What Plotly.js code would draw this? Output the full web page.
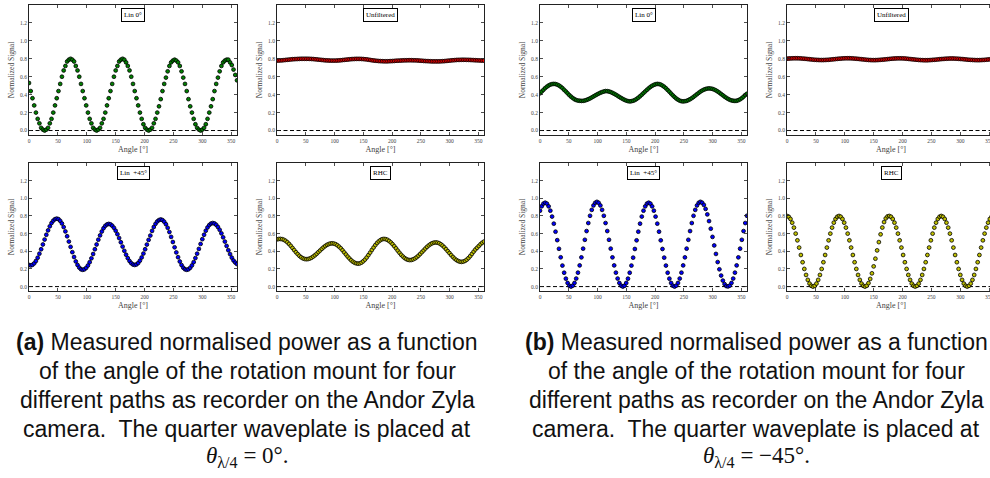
<!DOCTYPE html>
<html>
<head>
<meta charset="utf-8">
<script src="https://cdn.plot.ly/plotly-3.0.1.min.js"></script>
<style>
html,body{margin:0;padding:0;background:#fff;overflow:hidden;width:990px;height:478px;}
#chart{width:1000px;height:478px;}
</style>
</head>
<body>
<div id="chart"></div>
<script>
// ---------------- DATA ----------------
const angle = [0,3,6,9,12,15,18,21,24,27,30,33,36,39,42,45,48,51,54,57,60,63,66,69,72,75,78,81,84,87,
90,93,96,99,102,105,108,111,114,117,120,123,126,129,132,135,138,141,144,147,150,153,156,159,162,165,168,171,174,177,
180,183,186,189,192,195,198,201,204,207,210,213,216,219,222,225,228,231,234,237,240,243,246,249,252,255,258,261,264,267,
270,273,276,279,282,285,288,291,294,297,300,303,306,309,312,315,318,321,324,327,330,333,336,339,342,345,348,351,354,357,360];

const xTicks = [0,50,100,150,200,250,300,350];
const yTicks = [0.0,0.2,0.4,0.6,0.8,1.0,1.2];
const zeroX = [0,360];
const zeroY = [0,0];

const panelLabels = ["Lin 0°","Unfiltered","Lin  +45°","RHC","Lin 0°","Unfiltered","Lin  +45°","RHC"];

// (a) quarter waveplate at 0°
const aLin0 = [0.53,0.44,0.36,0.28,0.20,0.13,0.08,0.03,0.01,0.00,
0.01,0.03,0.08,0.13,0.20,0.28,0.36,0.44,0.52,0.60,
0.67,0.72,0.77,0.79,0.80,0.79,0.77,0.72,0.67,0.60,
0.52,0.44,0.36,0.28,0.20,0.13,0.08,0.03,0.01,0.00,
0.01,0.03,0.08,0.13,0.20,0.28,0.36,0.44,0.52,0.60,
0.67,0.72,0.77,0.79,0.80,0.79,0.76,0.72,0.67,0.60,
0.52,0.44,0.36,0.28,0.20,0.13,0.07,0.03,0.01,0.00,
0.01,0.03,0.08,0.13,0.20,0.27,0.35,0.44,0.52,0.59,
0.66,0.72,0.76,0.78,0.79,0.78,0.76,0.72,0.66,0.59,
0.52,0.44,0.35,0.27,0.20,0.13,0.07,0.03,0.01,0.00,
0.01,0.03,0.07,0.13,0.20,0.27,0.35,0.44,0.52,0.59,
0.66,0.72,0.76,0.78,0.79,0.79,0.76,0.73,0.68,0.62,
0.56];

const aUnfiltered = [0.780,0.781,0.782,0.783,0.785,0.787,0.789,0.791,0.793,0.795,
0.796,0.797,0.798,0.799,0.800,0.800,0.800,0.800,0.800,0.799,
0.798,0.797,0.795,0.793,0.791,0.789,0.787,0.785,0.783,0.782,
0.781,0.780,0.780,0.780,0.780,0.781,0.782,0.784,0.786,0.788,
0.790,0.792,0.794,0.796,0.797,0.798,0.799,0.799,0.799,0.798,
0.797,0.795,0.793,0.790,0.787,0.784,0.781,0.779,0.777,0.775,
0.774,0.773,0.772,0.772,0.772,0.773,0.774,0.775,0.776,0.778,
0.779,0.780,0.781,0.782,0.783,0.783,0.784,0.784,0.784,0.783,
0.783,0.782,0.781,0.779,0.778,0.776,0.775,0.774,0.773,0.772,
0.771,0.771,0.771,0.771,0.771,0.772,0.773,0.774,0.776,0.778,
0.780,0.782,0.784,0.785,0.787,0.788,0.788,0.789,0.789,0.789,
0.788,0.788,0.787,0.786,0.785,0.784,0.783,0.782,0.781,0.780,
0.780];

const aLin45 = [0.245,0.240,0.246,0.263,0.290,0.327,0.373,0.423,0.477,0.533,
0.587,0.637,0.683,0.720,0.747,0.764,0.770,0.764,0.745,0.715,
0.674,0.625,0.570,0.510,0.450,0.390,0.335,0.285,0.245,0.215,
0.196,0.190,0.196,0.212,0.239,0.276,0.320,0.369,0.423,0.477,
0.531,0.580,0.624,0.661,0.688,0.704,0.710,0.705,0.690,0.666,
0.633,0.594,0.550,0.502,0.453,0.405,0.361,0.322,0.289,0.265,
0.250,0.245,0.251,0.267,0.294,0.330,0.374,0.423,0.476,0.529,
0.578,0.631,0.675,0.711,0.738,0.754,0.760,0.754,0.735,0.706,
0.666,0.618,0.563,0.505,0.445,0.387,0.333,0.284,0.244,0.214,
0.196,0.190,0.196,0.213,0.240,0.277,0.323,0.373,0.427,0.483,
0.537,0.587,0.633,0.670,0.697,0.714,0.720,0.715,0.700,0.675,
0.643,0.603,0.558,0.510,0.461,0.412,0.368,0.328,0.295,0.272,
0.255];

const aRHC = [0.535,0.539,0.540,0.537,0.530,0.518,0.502,0.483,0.461,0.437,
0.413,0.389,0.368,0.348,0.332,0.320,0.313,0.310,0.312,0.318,
0.327,0.340,0.355,0.372,0.391,0.409,0.428,0.445,0.460,0.473,
0.482,0.488,0.490,0.487,0.480,0.468,0.452,0.433,0.411,0.387,
0.363,0.339,0.318,0.298,0.282,0.270,0.263,0.260,0.263,0.272,
0.287,0.306,0.330,0.357,0.385,0.415,0.443,0.470,0.494,0.513,
0.527,0.537,0.540,0.537,0.530,0.517,0.500,0.480,0.457,0.433,
0.407,0.383,0.360,0.340,0.323,0.311,0.303,0.300,0.302,0.309,
0.319,0.333,0.350,0.369,0.390,0.410,0.431,0.450,0.467,0.481,
0.491,0.498,0.500,0.498,0.491,0.479,0.464,0.445,0.424,0.401,
0.379,0.356,0.335,0.316,0.301,0.290,0.282,0.280,0.283,0.291,
0.305,0.323,0.345,0.370,0.396,0.420,0.440,0.460,0.480,0.497,
0.510];

// (b) quarter waveplate at -45°
const bLin0 = [0.415,0.435,0.454,0.473,0.489,0.502,0.512,0.518,0.520,0.518,
0.512,0.502,0.489,0.473,0.454,0.435,0.415,0.395,0.378,0.362,
0.349,0.340,0.334,0.332,0.330,0.331,0.335,0.341,0.349,0.358,
0.369,0.380,0.391,0.402,0.412,0.421,0.429,0.435,0.440,0.439,
0.435,0.429,0.420,0.410,0.399,0.387,0.375,0.363,0.352,0.342,
0.334,0.328,0.325,0.327,0.332,0.340,0.352,0.366,0.382,0.400,
0.418,0.436,0.454,0.471,0.486,0.499,0.509,0.516,0.520,0.518,
0.512,0.501,0.488,0.471,0.452,0.433,0.412,0.392,0.374,0.357,
0.344,0.333,0.327,0.325,0.327,0.331,0.339,0.349,0.361,0.375,
0.390,0.405,0.420,0.434,0.446,0.456,0.463,0.468,0.470,0.468,
0.464,0.457,0.447,0.435,0.422,0.407,0.393,0.378,0.365,0.353,
0.343,0.336,0.332,0.330,0.332,0.338,0.348,0.361,0.378,0.396,
0.410];

const bUnfiltered = [0.801,0.803,0.804,0.805,0.806,0.806,0.806,0.805,0.804,0.802,
0.801,0.799,0.797,0.795,0.793,0.791,0.789,0.788,0.787,0.786,
0.786,0.786,0.787,0.788,0.789,0.791,0.793,0.795,0.797,0.799,
0.801,0.802,0.804,0.805,0.806,0.806,0.806,0.805,0.804,0.802,
0.801,0.799,0.797,0.795,0.793,0.791,0.789,0.787,0.786,0.785,
0.785,0.785,0.786,0.787,0.789,0.790,0.792,0.794,0.796,0.798,
0.800,0.802,0.803,0.804,0.805,0.805,0.805,0.804,0.803,0.801,
0.799,0.797,0.795,0.793,0.791,0.789,0.787,0.786,0.785,0.784,
0.784,0.784,0.785,0.786,0.788,0.789,0.791,0.793,0.795,0.797,
0.798,0.800,0.801,0.802,0.803,0.803,0.803,0.802,0.801,0.800,
0.798,0.797,0.795,0.793,0.791,0.789,0.788,0.787,0.786,0.785,
0.785,0.785,0.786,0.787,0.788,0.790,0.792,0.794,0.796,0.798,
0.800];

const bLin45 = [0.860,0.910,0.940,0.950,0.940,0.909,0.860,0.793,0.713,0.622,
0.526,0.428,0.332,0.238,0.157,0.090,0.041,0.010,0.000,0.011,
0.041,0.091,0.158,0.240,0.331,0.430,0.530,0.629,0.720,0.802,
0.869,0.919,0.949,0.960,0.949,0.919,0.869,0.802,0.720,0.629,
0.530,0.430,0.331,0.240,0.158,0.091,0.041,0.011,0.000,0.010,
0.041,0.090,0.157,0.238,0.328,0.426,0.524,0.622,0.713,0.793,
0.860,0.909,0.940,0.950,0.940,0.909,0.860,0.793,0.713,0.622,
0.524,0.426,0.328,0.238,0.157,0.090,0.041,0.010,0.000,0.011,
0.041,0.091,0.158,0.240,0.331,0.430,0.530,0.629,0.720,0.802,
0.869,0.919,0.949,0.960,0.950,0.925,0.880,0.818,0.742,0.656,
0.563,0.466,0.370,0.278,0.196,0.125,0.068,0.028,0.006,0.002,
0.011,0.041,0.091,0.158,0.240,0.331,0.430,0.530,0.629,0.720,
0.802];

const bRHC = [0.800,0.791,0.766,0.724,0.668,0.600,0.524,0.442,0.358,0.276,
0.200,0.132,0.076,0.034,0.009,0.000,0.009,0.034,0.076,0.132,
0.200,0.276,0.358,0.442,0.524,0.600,0.668,0.724,0.766,0.791,
0.800,0.791,0.766,0.724,0.668,0.600,0.524,0.442,0.358,0.276,
0.200,0.132,0.076,0.034,0.009,0.000,0.010,0.039,0.087,0.150,
0.229,0.316,0.410,0.504,0.592,0.669,0.731,0.773,0.795,0.800,
0.791,0.766,0.724,0.668,0.600,0.524,0.442,0.358,0.276,0.200,
0.132,0.076,0.034,0.009,0.000,0.009,0.034,0.076,0.132,0.200,
0.276,0.358,0.442,0.524,0.600,0.668,0.724,0.766,0.791,0.800,
0.791,0.766,0.724,0.668,0.600,0.524,0.442,0.358,0.276,0.200,
0.132,0.076,0.034,0.009,0.000,0.009,0.034,0.076,0.132,0.200,
0.276,0.358,0.442,0.524,0.600,0.668,0.724,0.766,0.791,0.800,
0.791];

const series = [aLin0, aUnfiltered, aLin45, aRHC, bLin0, bUnfiltered, bLin45, bRHC];
const fills  = ["#008000","#ff0000","#0000ff","#bfbf00","#008000","#ff0000","#0000ff","#bfbf00"];

const mathA = "<span style=\"font-family:Liberation Serif\"><i>θ</i><sub>λ/4</sub> = 0°.</span>";
const mathB = "<span style=\"font-family:Liberation Serif\"><i>θ</i><sub>λ/4</sub> = −45°.</span>";
const captionALines = ["<b>(a)</b> Measured normalised power as a function",
  "of the angle of the rotation mount for four",
  "different paths as recorder on the Andor Zyla",
  "camera.\u00a0 The quarter waveplate is placed at",
  mathA];
const captionBLines = ["<b>(b)</b> Measured normalised power as a function",
  "of the angle of the rotation mount for four",
  "different paths as recorder on the Andor Zyla",
  "camera.\u00a0 The quarter waveplate is placed at",
  mathB];

// ---------------- LAYOUT ----------------
const W = 1000, H = 478;
const colsPx = [[29,237],[277,484],[540,747],[787,995]];
const rowsPx = [[5,135],[163,291]];
const panelPos = [[0,0],[1,0],[0,1],[1,1],[2,0],[3,0],[2,1],[3,1]];
const captionLineY = [342, 371, 400, 428.5, 457];

const serif = "Liberation Serif";
const layout = {
  width: W, height: H,
  margin: {l:0, r:0, t:0, b:0},
  paper_bgcolor: "#fff", plot_bgcolor: "#fff",
  showlegend: false,
  annotations: [],
  font: {family: serif, color: "#000"}
};
const traces = [];

for (let i = 0; i < 8; i++) {
  const n = i === 0 ? "" : String(i + 1);
  const [c, r] = panelPos[i];
  const xd = [colsPx[c][0] / W, colsPx[c][1] / W];
  const yd = [1 - rowsPx[r][1] / H, 1 - rowsPx[r][0] / H];
  layout["xaxis" + n] = {
    domain: xd, anchor: "y" + n, range: [0, 360],
    tickmode: "array", tickvals: xTicks, ticktext: xTicks.map(String),
    ticks: "inside", ticklen: 3, tickwidth: 0.8, tickcolor: "#222",
    showline: true, linecolor: "#222", linewidth: 1, mirror: "ticks",
    showgrid: false, zeroline: false,
    tickfont: {family: serif, size: 5.5, color: "#444"},
    title: {text: "Angle [°]", font: {family: serif, size: 8, color: "#444"}, standoff: 3}
  };
  layout["yaxis" + n] = {
    domain: yd, anchor: "x" + n, range: [-0.05, 1.4],
    tickmode: "array", tickvals: yTicks, ticktext: yTicks.map(v => v.toFixed(1)),
    ticks: "inside", ticklen: 3, tickwidth: 0.8, tickcolor: "#222",
    showline: true, linecolor: "#222", linewidth: 1, mirror: "ticks",
    showgrid: false, zeroline: false,
    tickfont: {family: serif, size: 5.5, color: "#444"},
    title: {text: "Normalized Signal", font: {family: serif, size: 7.5, color: "#444"}, standoff: 4}
  };
  traces.push({
    x: zeroX, y: zeroY, xaxis: "x" + n, yaxis: "y" + n,
    mode: "lines", line: {color: "#000", width: 1, dash: "4px,2.5px"}, hoverinfo: "skip"
  });
  traces.push({
    x: angle, y: series[i], xaxis: "x" + n, yaxis: "y" + n,
    mode: "markers",
    marker: {size: 3.8, color: fills[i], line: {color: "#000", width: 0.8}}
  });
  layout.annotations.push({
    xref: "x" + n + " domain", yref: "y" + n + " domain",
    x: 0.5, y: 0.975, xanchor: "center", yanchor: "top",
    text: panelLabels[i], showarrow: false,
    font: {family: serif, size: 7, color: "#000"},
    bordercolor: "#000", borderwidth: 1, borderpad: 2, bgcolor: "#fff"
  });
}

function addCaption(lines, cx) {
  lines.forEach((t, k) => {
    layout.annotations.push({
      xref: "paper", yref: "paper", x: cx / W, y: 1 - captionLineY[k] / H,
      xanchor: "center", yanchor: "middle", align: "center", showarrow: false,
      text: t, font: {family: "Liberation Sans", size: 23, color: "#111"}
    });
  });
}
addCaption(captionALines, 247);
addCaption(captionBLines, 756);

Plotly.newPlot("chart", traces, layout, {displayModeBar: false, staticPlot: true});
</script>
</body>
</html>
